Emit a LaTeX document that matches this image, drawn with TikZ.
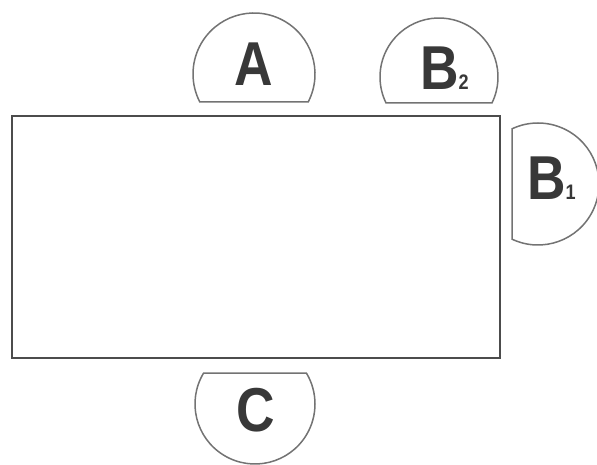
\documentclass[tikz,border=0pt]{standalone}
\usepackage{fontspec}
\setmainfont{Liberation Sans}
\usetikzlibrary{calc}
\newcommand{\seatidx}[1]{{\fontsize{21}{21}\selectfont\bfseries #1}}
\begin{document}
\begin{tikzpicture}[x=1pt, y=1pt,
    seat/.style={draw=black!55, line width=1.5pt, fill=white},
    table/.style={draw=black!70, line width=1.8pt},
    letter/.style={font=\fontsize{62}{62}\selectfont\bfseries, text=black!78, inner sep=0pt, xscale=0.86}]
  \useasboundingbox (0,0) rectangle (597,465);
  % Table
  \draw[table] (12,349) rectangle (500,107);
  % Seat A (top)
  \draw[seat] ($(254,391)+(-27.3:61)$) arc[start angle=-27.3, end angle=207.3, radius=61] -- cycle;
  \node[letter] (a) at (254,401) {A};
  % Seat B2 (top right)
  \draw[seat] ($(439,388)+(-26.1:59)$) arc[start angle=-26.1, end angle=206.1, radius=59] -- cycle;
  \node[letter, anchor=base west] (b2) at (420,375) {B\seatidx{2}};
  % Seat B1 (right side)
  \draw[seat] ($(538,281)+(-115.2:61)$) arc[start angle=-115.2, end angle=115.2, radius=61] -- cycle;
  \node[letter, anchor=base west] (b1) at (527,265) {B\seatidx{1}};
  % Seat C (bottom)
  \draw[seat] ($(255,61)+(148.9:60)$) arc[start angle=148.9, end angle=391.1, radius=60] -- cycle;
  \node[letter] (c) at (256,55) {C};
\end{tikzpicture}
\end{document}
